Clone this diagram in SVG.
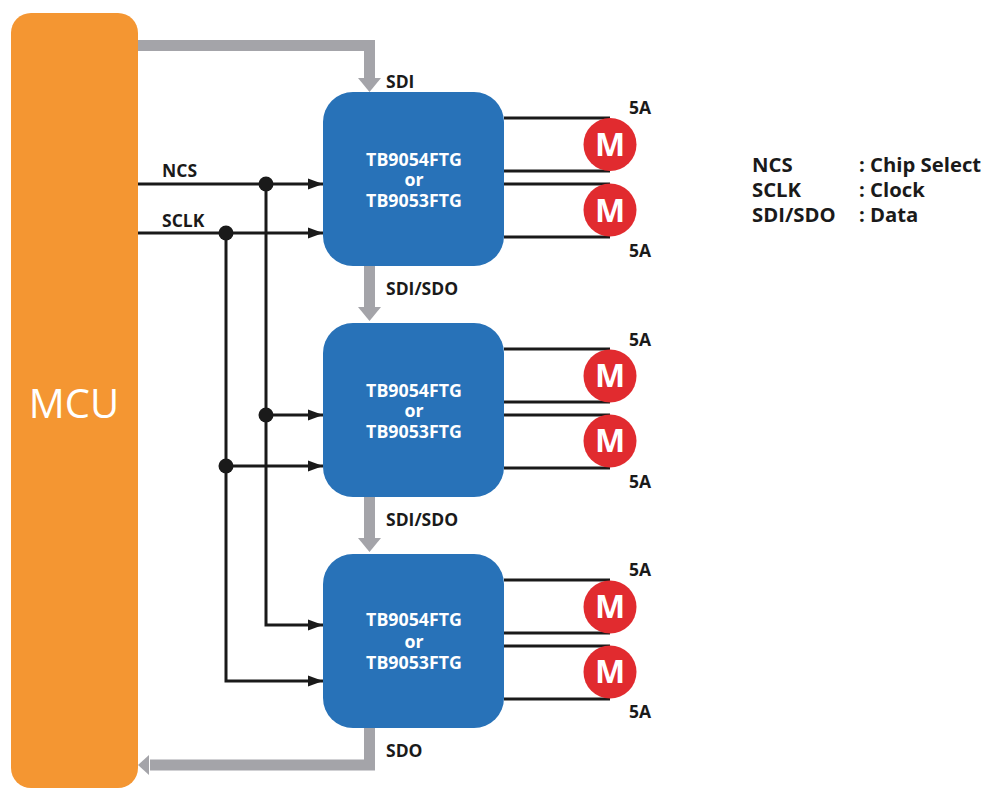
<svg xmlns="http://www.w3.org/2000/svg" width="983" height="788" viewBox="0 0 983 788">
<style>
text{font-family:"Open Sans","Noto Sans","Liberation Sans",sans-serif;font-weight:700}
.lbl{font-size:17.500px;fill:#1a1a1a}
.leg{font-size:20.300px;fill:#1a1a1a}
.chip{fill:#2872b8}
.chipt{font-size:17.800px;fill:#fff;text-anchor:middle}
.mot{fill:#e12b2f}
.mt{font-size:32px;fill:#fff;text-anchor:middle}
.bk{fill:none;stroke:#1a1a1a;stroke-width:3}
.gr{fill:none;stroke:#a4a4a9;stroke-width:11}
.dot{fill:#1a1a1a}
</style>
<defs>
<marker id="a" markerUnits="userSpaceOnUse" markerWidth="16" markerHeight="14" refX="15" refY="7" orient="auto"><path d="M0 1.500L15 7L0 12.500Z" fill="#1a1a1a"/></marker>
</defs>
<g id="connectors">
<path class="gr" d="M138 45.500H369.500V79"/><path d="M358 78H381L369.500 92Z" fill="#a4a4a9"/>
<path class="gr" d="M369.500 266V309"/><path d="M358 307H381L369.500 321Z" fill="#a4a4a9"/>
<path class="gr" d="M369.500 497V540"/><path d="M358 538H381L369.500 552Z" fill="#a4a4a9"/>
<path class="gr" d="M369.500 728V765H150"/><path d="M149 755V775L138 765Z" fill="#a4a4a9"/>
<path class="bk" marker-end="url(#a)" d="M138 184H323"/>
<path class="bk" marker-end="url(#a)" d="M138 233H323"/>
<path class="bk" marker-end="url(#a)" d="M266 415H323"/>
<path class="bk" marker-end="url(#a)" d="M226 466H323"/>
<path class="bk" marker-end="url(#a)" d="M266 184V625H323"/>
<path class="bk" marker-end="url(#a)" d="M226 233V681H323"/>
<circle class="dot" cx="266" cy="184" r="7.500"/>
<circle class="dot" cx="226" cy="233" r="7.500"/>
<circle class="dot" cx="266" cy="415" r="7.500"/>
<circle class="dot" cx="226" cy="466" r="7.500"/>
<path class="bk" d="M504 118H610M504 171H610M504 184H610M504 237H610"/>
<path class="bk" d="M504 349H610M504 402H610M504 415H610M504 468H610"/>
<path class="bk" d="M504 580H610M504 633H610M504 646H610M504 699H610"/>
</g>
<g id="mcu"><rect x="11" y="13" width="127" height="775" rx="20" fill="#f49632"/><text x="74" y="418" font-size="40" fill="#fff" text-anchor="middle" style="font-weight:400">MCU</text></g>
<g id="chip1"><rect class="chip" x="323" y="92" width="181" height="174" rx="30"/><text class="chipt" x="414" y="166">TB9054FTG</text><text class="chipt" x="414" y="186">or</text><text class="chipt" x="414" y="207">TB9053FTG</text></g>
<g id="chip2"><rect class="chip" x="323" y="323" width="181" height="174" rx="30"/><text class="chipt" x="414" y="397">TB9054FTG</text><text class="chipt" x="414" y="417">or</text><text class="chipt" x="414" y="438">TB9053FTG</text></g>
<g id="chip3"><rect class="chip" x="323" y="554" width="181" height="174" rx="30"/><text class="chipt" x="414" y="626">TB9054FTG</text><text class="chipt" x="414" y="648">or</text><text class="chipt" x="414" y="669">TB9053FTG</text></g>
<g id="motor1"><circle class="mot" cx="610" cy="144.500" r="26.500"/><text class="mt" x="610" y="156">M</text></g>
<g id="motor2"><circle class="mot" cx="610" cy="210" r="26.500"/><text class="mt" x="610" y="222">M</text></g>
<g id="motor3"><circle class="mot" cx="610" cy="376" r="26.500"/><text class="mt" x="610" y="387">M</text></g>
<g id="motor4"><circle class="mot" cx="610" cy="441" r="26.500"/><text class="mt" x="610" y="452">M</text></g>
<g id="motor5"><circle class="mot" cx="610" cy="607" r="26.500"/><text class="mt" x="610" y="618">M</text></g>
<g id="motor6"><circle class="mot" cx="610" cy="672" r="26.500"/><text class="mt" x="610" y="683">M</text></g>
<g id="labels">
<text class="lbl" x="162" y="177">NCS</text>
<text class="lbl" x="162" y="227">SCLK</text>
<text class="lbl" x="386" y="88">SDI</text>
<text class="lbl" x="386" y="295">SDI/SDO</text>
<text class="lbl" x="386" y="526">SDI/SDO</text>
<text class="lbl" x="386" y="757">SDO</text>
<text class="lbl" x="629" y="114">5A</text>
<text class="lbl" x="629" y="257">5A</text>
<text class="lbl" x="629" y="346">5A</text>
<text class="lbl" x="629" y="488">5A</text>
<text class="lbl" x="629" y="576">5A</text>
<text class="lbl" x="629" y="718">5A</text>
</g>
<g id="legend">
<text class="leg" x="752" y="172">NCS</text><text class="leg" x="859" y="172">: Chip Select</text>
<text class="leg" x="752" y="197">SCLK</text><text class="leg" x="859" y="197">: Clock</text>
<text class="leg" x="752" y="222">SDI/SDO</text><text class="leg" x="859" y="222">: Data</text>
</g>
</svg>
